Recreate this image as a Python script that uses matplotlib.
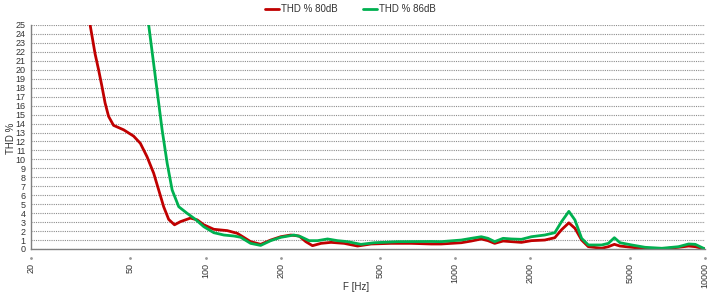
import matplotlib
matplotlib.use("Agg")
import matplotlib.pyplot as plt

plt.rcParams['font.family'] = ['Liberation Sans', 'DejaVu Sans']

# THD % 80dB (red)
f_80 = [34.5, 36.1, 37.3, 38.5, 39.6, 40.9, 42.8, 47.0, 51.5, 54.8, 58.3, 62.0,
        64.9, 68.0, 71.2, 75.1, 79.3, 87.0, 92.6, 98.4, 107.9, 122.2, 134.0,
        151.5, 166.2, 182.4, 200, 219.4, 237, 252, 268, 290, 318, 359, 406, 460,
        553, 666, 801, 878, 1057, 1159, 1271, 1352, 1438, 1554, 1678, 1840, 2018,
        2282, 2504, 2664, 2850, 3014, 3206, 3410, 3856, 4102, 4336, 4568, 5088,
        5754, 6716, 7840, 8598, 9138, 10000]
thd_80 = [25.0, 21.8, 20.0, 18.1, 16.3, 14.8, 13.8, 13.3, 12.6, 11.8, 10.3, 8.45,
          6.6, 4.7, 3.3, 2.7, 3.05, 3.45, 3.25, 2.7, 2.2, 2.05, 1.75,
          0.82, 0.52, 1.0, 1.37, 1.56, 1.45, 0.82, 0.37, 0.63, 0.74, 0.63, 0.33, 0.56,
          0.63, 0.63, 0.56, 0.56, 0.7, 0.89, 1.12, 0.93, 0.63, 0.89, 0.82, 0.74, 0.93,
          1.0, 1.26, 2.15, 2.92, 2.31, 1.0, 0.26, 0.08, 0.26, 0.52, 0.33, 0.19,
          0.03, 0.0, 0.19, 0.33, 0.26, 0.0]

# THD % 86dB (green)
f_86 = [59.2, 67.0, 70.2, 73.5, 78.1, 84.4, 91.1, 98.4, 107.9, 118.4, 129.9, 138.2,
        151.5, 166.2, 182.4, 200, 226, 240.6, 259.8, 280.8, 308, 337.8, 370.6, 419,
        474, 588, 801, 878, 1057, 1159, 1271, 1352, 1438, 1554, 1678, 1840, 2018,
        2282, 2504, 2664, 2850, 3014, 3206, 3410, 3856, 4102, 4336, 4568, 5088,
        5754, 6716, 7840, 8598, 9138, 10000]
thd_86 = [25.0, 13.3, 9.56, 6.58, 4.72, 3.98, 3.31, 2.49, 1.82, 1.56, 1.45, 1.31,
          0.63, 0.4, 0.93, 1.3, 1.56, 1.37, 0.93, 0.93, 1.12, 0.93, 0.82, 0.52,
          0.7, 0.82, 0.84, 0.82, 1.0, 1.19, 1.37, 1.19, 0.82, 1.19, 1.12, 1.08, 1.37,
          1.56, 1.82, 3.05, 4.2, 3.24, 1.19, 0.45, 0.45, 0.63, 1.26, 0.7, 0.45,
          0.19, 0.08, 0.26, 0.56, 0.52, 0.0]

xticks = [20, 50, 100, 200, 500, 1000, 2000, 5000, 10000]
yticks = list(range(0, 26))

fig = plt.figure(figsize=(7.09, 2.92), dpi=100)
ax = fig.add_axes([31 / 709, 43 / 292, 674 / 709, 224 / 292])

ax.plot(f_80, thd_80, color='#C00000', lw=2.0, label='THD % 80dB',
        solid_joinstyle='round', solid_capstyle='round')
ax.plot(f_86, thd_86, color='#00B050', lw=2.0, label='THD % 86dB',
        solid_joinstyle='round', solid_capstyle='round')

ax.set_xscale('log')
ax.set_xlim(20, 10000)
ax.set_ylim(0, 25)
ax.set_xticks(xticks)
ax.set_xticklabels([str(t) for t in xticks], rotation=90)
ax.minorticks_off()
ax.set_yticks(yticks)
ax.tick_params(axis='both', length=0, labelsize=6.5, labelcolor='#333333')
ax.tick_params(axis='y', pad=4)
ax.tick_params(axis='x', pad=10)

# little dot marks under the axis, like the original chart
ax.plot(xticks, [-0.04] * len(xticks), ls='none', marker='.', ms=2,
        color='#999999', transform=ax.get_xaxis_transform(), clip_on=False)

ax.yaxis.grid(True, linestyle=(0, (1, 1)), color='#8c8c8c', lw=0.8)
ax.set_axisbelow(True)
for s in ['top', 'right']:
    ax.spines[s].set_visible(False)
for s in ['left', 'bottom']:
    ax.spines[s].set_color('#808080')
    ax.spines[s].set_linewidth(1.0)

fig.text(356 / 709, 1 - 287 / 292, 'F [Hz]', ha='center', va='center',
         fontsize=7, color='#333333')
fig.text(11 / 709, 1 - 138 / 292, 'THD %', ha='center', va='center',
         rotation=90, fontsize=7, color='#333333')

fig.legend(loc='center', bbox_to_anchor=(350 / 709, 1 - 9.5 / 292), ncol=2,
           frameon=False, fontsize=7, handlelength=1.5, handletextpad=0.15,
           columnspacing=2.6, labelcolor='#333333')

fig.savefig('out.png', dpi=100)
